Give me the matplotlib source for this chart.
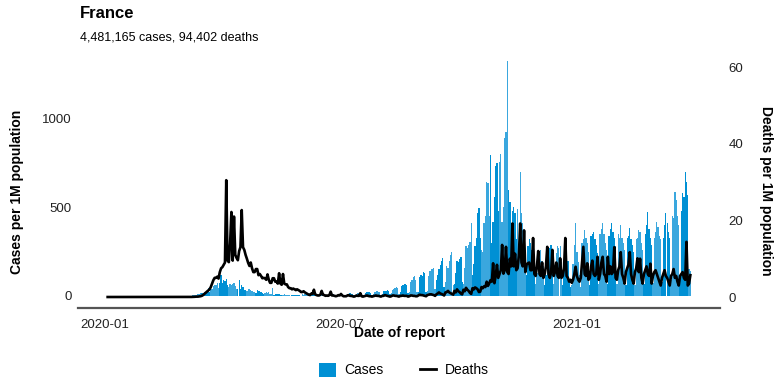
import numpy as np
import pandas as pd
import matplotlib
matplotlib.use("Agg")
import matplotlib.pyplot as plt
from matplotlib.patches import Patch
from matplotlib.lines import Line2D

plt.rcParams['font.family'] = ['Liberation Sans', 'DejaVu Sans']

country = "France"
subtitle = "4,481,165 cases, 94,402 deaths"
first_day = "2020-01-03"

# daily cases per 1M population, one week per line (Fri..Thu)
cases_per_m = [
    0, 0, 0, 0, 0, 0, 0,
    0, 0, 0, 0, 0, 0, 0,
    0, 0, 0, 0, 0, 0, 0,
    0, 0, 0, 0, 0, 0, 0,
    0, 0, 0, 0, 0, 0, 0,
    0, 0, 0, 0, 0, 0, 0,
    0, 0, 0, 0, 0, 0, 0,
    0, 0, 0, 0, 0, 0, 0,
    0.1, 0.3, 0.5, 0.6, 0.3, 0.9, 1.3,
    1.8, 2.3, 2.4, 3.1, 4.2, 5.2, 7.5,
    12, 12, 14, 18, 17, 21, 23,
    28, 44, 24, 56, 40, 58, 62,
    63, 72, 44, 72, 119, 76, 90,
    82, 95, 60, 52, 68, 62, 66,
    72, 58, 41, 37, 88, 42, 62,
    52, 32, 36, 27, 42, 40, 36,
    26, 24, 22, 18, 34, 30, 26,
    22, 16, 10, 14, 20, 16, 22,
    12, 9, 44, 6, 10, 12, 10,
    9, 7, 4, 5, 10, 8, 6,
    6, 4, 2, 5, 6, 5, 6,
    8, 5, 3, 2, 10, 8, 10,
    9, 7, 5, 4, 7, 9, 10,
    8, 6, 4, 5, 8, 7, 10,
    8, 6, 3, 6, 8, 10, 12,
    10, 8, 4, 5, 9, 12, 14,
    10, 8, 3, 6, 10, 12, 15,
    12, 9, 4, 6, 10, 14, 15,
    16, 12, 5, 8, 15, 20, 22,
    20, 18, 6, 10, 20, 25, 30,
    25, 20, 8, 12, 30, 28, 30,
    35, 30, 10, 15, 35, 40, 45,
    50, 45, 12, 20, 55, 60, 70,
    70, 62, 15, 25, 80, 88, 105,
    110, 92, 20, 25, 108, 118, 115,
    135, 130, 25, 30, 110, 140, 150,
    155, 160, 40, 90, 120, 150, 175,
    200, 212, 50, 80, 170, 160, 200,
    230, 248, 60, 70, 130, 200, 190,
    210, 218, 80, 70, 160, 280, 270,
    290, 305, 410, 120, 180, 280, 330,
    470, 497, 330, 260, 250, 410, 450,
    644, 640, 450, 797, 300, 420, 560,
    736, 750, 480, 757, 802, 420, 500,
    893, 927, 1328, 600, 530, 300, 480,
    500, 470, 320, 490, 280, 700, 468,
    410, 330, 200, 120, 280, 320, 300,
    260, 230, 180, 70, 130, 190, 240,
    260, 200, 170, 60, 120, 210, 250,
    270, 288, 180, 65, 130, 240, 280,
    270, 280, 190, 60, 180, 310, 270,
    200, 90, 50, 60, 180, 290, 410,
    250, 190, 120, 50, 300, 320, 370,
    330, 300, 250, 60, 340, 350, 363,
    320, 290, 240, 65, 350, 380, 412,
    350, 300, 260, 65, 340, 380, 410,
    360, 330, 280, 70, 350, 330, 400,
    330, 300, 260, 60, 330, 340, 384,
    320, 290, 250, 60, 320, 330, 370,
    360, 300, 260, 70, 350, 400, 475,
    380, 330, 290, 75, 330, 360, 420,
    390, 340, 320, 80, 330, 400, 468,
    410, 360, 330, 90, 450, 440, 590,
    540, 450, 400, 100, 480, 582, 560,
    700, 645, 570, 150, 140,
]

# daily deaths per 1M population, same days
deaths_per_m = [
    0, 0, 0, 0, 0, 0, 0,
    0, 0, 0, 0, 0, 0, 0,
    0, 0, 0, 0, 0, 0, 0,
    0, 0, 0, 0, 0, 0, 0,
    0, 0, 0, 0, 0, 0, 0,
    0, 0, 0, 0, 0, 0, 0,
    0, 0, 0, 0, 0, 0, 0,
    0, 0, 0, 0, 0, 0, 0,
    0, 0, 0, 0, 0, 0, 0.02,
    0, 0.02, 0.02, 0.03, 0.05, 0.08, 0.1,
    0.1, 0.15, 0.2, 0.3, 0.5, 0.8, 1.1,
    1.4, 1.7, 2.0, 2.6, 3.5, 4.4, 5.0,
    5.0, 5.3, 4.8, 6.5, 7.5, 7.8, 8.4,
    9.0, 30.5, 9.5, 9.1, 14, 22.2, 9.5,
    21, 11, 10.2, 9.6, 12, 13, 22.7,
    13, 12.3, 11, 10, 8.9, 8.1, 9,
    7.5, 6.5, 6.5, 7.3, 7.3, 5.7, 6.0,
    5.5, 4.9, 5.0, 4.9, 4.5, 5.9, 4.5,
    3.7, 3.7, 4.9, 4.9, 4.0, 4.0, 3.5,
    6.2, 3.5, 3.2, 6.0, 3.5, 3.3, 3.3,
    2.6, 2.3, 2.3, 2.0, 2.2, 2.0, 1.8,
    2.0, 1.8, 1.6, 1.3, 1.3, 1.5, 1.2,
    1.0, 0.8, 0.6, 0.5, 0.9, 0.8, 1.9,
    0.7, 0.5, 0.4, 0.4, 0.6, 1.6, 0.6,
    0.5, 0.3, 0.4, 0.3, 0.5, 1.4, 0.4,
    0.4, 0.3, 0.2, 0.3, 0.5, 0.4, 0.8,
    0.4, 0.2, 0.2, 0.2, 0.4, 0.5, 0.3,
    0.3, 0.2, 0.1, 0.2, 0.4, 0.3, 0.3,
    1.0, 0.2, 0.1, 0.2, 0.3, 0.4, 0.3,
    0.2, 0.2, 0.1, 0.2, 0.3, 0.4, 0.3,
    0.3, 0.2, 0.1, 0.3, 0.3, 0.5, 0.4,
    0.3, 0.2, 0.1, 0.2, 0.4, 0.4, 0.3,
    0.3, 0.2, 0.1, 0.3, 0.3, 0.4, 0.3,
    0.3, 0.3, 0.1, 0.2, 0.4, 0.4, 0.3,
    0.3, 0.2, 0.2, 0.4, 0.6, 0.5, 0.5,
    0.4, 0.3, 0.2, 0.5, 0.6, 0.7, 0.7,
    0.6, 0.5, 0.3, 0.7, 0.9, 1.2, 0.9,
    0.8, 0.6, 0.4, 1.2, 1.3, 1.6, 1.2,
    1.0, 0.8, 0.6, 1.6, 1.2, 2.0, 1.5,
    1.3, 0.9, 0.7, 1.9, 1.5, 2.4, 1.9,
    1.6, 1.1, 0.8, 2.3, 2.0, 2.5, 2.3,
    2.0, 1.3, 1.4, 2.6, 2.3, 2.8, 2.6,
    4.0, 2.9, 3.6, 4.4, 4.0, 8.8, 3.6,
    5.5, 8.4, 5.0, 6.0, 7.0, 13.6, 6.1,
    7.0, 13.1, 6.5, 6.0, 10.0, 8.0, 19.2,
    8.0, 11.3, 7.0, 7.5, 11.0, 19.2, 9.0,
    8.0, 17.4, 6.5, 8.5, 8.8, 9.0, 7.0,
    7.0, 15.4, 6.0, 5.5, 8.0, 12.0, 6.0,
    5.5, 9.0, 5.0, 6.0, 8.0, 13.1, 6.0,
    5.0, 6.5, 12.3, 5.5, 6.5, 9.0, 5.5,
    5.0, 10.1, 5.0, 5.5, 7.5, 15.4, 5.5,
    5.0, 4.0, 4.5, 3.7, 4.5, 6.0, 7.9,
    5.5, 4.5, 4.0, 5.0, 9.0, 13.1, 6.0,
    5.5, 8.8, 4.5, 5.0, 8.0, 9.5, 6.0,
    5.5, 6.0, 10.5, 4.5, 6.0, 9.0, 10.5,
    6.0, 5.5, 4.0, 10.5, 6.0, 8.0, 6.0,
    6.5, 13.0, 5.0, 4.5, 7.0, 8.0, 11.7,
    6.0, 5.0, 3.5, 6.5, 7.5, 8.5, 11.7,
    6.0, 4.5, 3.5, 6.5, 7.5, 10.1, 6.5,
    10.0, 5.0, 3.5, 6.0, 7.0, 8.0, 6.0,
    5.5, 8.7, 3.5, 5.5, 6.5, 7.0, 6.0,
    5.0, 4.0, 3.0, 5.0, 6.0, 7.0, 5.5,
    5.0, 4.0, 3.0, 5.5, 6.0, 7.3, 5.0,
    5.5, 4.0, 3.0, 5.5, 6.0, 6.5, 5.0,
    4.5, 14.4, 3.0, 3.5, 5.7,
]

x_ticks = ["2020-01-01", "2020-07-01", "2021-01-01"]
cases_ticks = [0, 500, 1000]
deaths_ticks = [0, 20, 40, 60]

dark_blue = "#0090d4"
light_blue = "#3aa7de"

dates = pd.date_range(first_day, periods=len(cases_per_m), freq="D")
week_no = dates.isocalendar().week.values
bar_colors = np.where(week_no % 2 == 0, dark_blue, light_blue)

W, H = 784, 392
fig = plt.figure(figsize=(W / 100, H / 100), dpi=100)
ax = fig.add_axes([78 / W, 1 - 308 / H, 642 / W, 259 / H])

ax.bar(dates, cases_per_m, width=1.0, color=bar_colors, linewidth=0)
ax2 = ax.twinx()
ax2.plot(dates, deaths_per_m, color="black", lw=1.9, solid_joinstyle="round")

ax.set_xlim(pd.Timestamp("2019-12-11"), pd.Timestamp("2021-04-22"))
ax.set_ylim(-68, 1395)
ax2.set_ylim(-2.87, 64.75)

ax.set_xticks(pd.to_datetime(x_ticks))
ax.set_xticklabels([d[:7] for d in x_ticks])
ax.set_yticks(cases_ticks)
ax2.set_yticks(deaths_ticks)

for a in (ax, ax2):
    for s in a.spines.values():
        s.set_visible(False)
ax.spines["bottom"].set_visible(True)
ax.spines["bottom"].set_color("#555555")
ax.spines["bottom"].set_linewidth(1.6)

ax.tick_params(axis="x", length=0, pad=8, labelsize=9.5, labelcolor="#222222")
ax.tick_params(axis="y", length=0, pad=4.5, labelsize=9.5, labelcolor="#222222")
ax2.tick_params(axis="y", length=0, pad=6, labelsize=9.5, labelcolor="#222222")

fig.text(80 / W, 1 - 14 / H, country, fontsize=12, fontweight="bold", va="center")
fig.text(80 / W, 1 - 37 / H, subtitle, fontsize=9, va="center")
fig.text(399 / W, 1 - 333 / H, "Date of report", fontsize=10, fontweight="bold",
         ha="center", va="center")
fig.text(17 / W, 1 - 192 / H, "Cases per 1M population", fontsize=10,
         fontweight="bold", rotation=90, ha="center", va="center")
fig.text(766 / W, 1 - 191 / H, "Deaths per 1M population", fontsize=10,
         fontweight="bold", rotation=-90, ha="center", va="center")

handles = [Patch(facecolor=dark_blue, edgecolor="none"),
           Line2D([], [], color="black", lw=2)]
fig.legend(handles, ["Cases", "Deaths"], loc="center",
           bbox_to_anchor=(404 / W, 1 - 370 / H), ncol=2, frameon=False,
           fontsize=10, handlelength=1.2, handleheight=1.2,
           columnspacing=2.6, handletextpad=0.6)

fig.savefig("out.png", dpi=100)
